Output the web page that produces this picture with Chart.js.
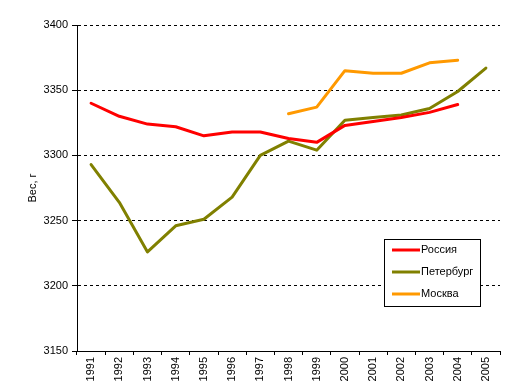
<!DOCTYPE html>
<html>
<head>
<meta charset="utf-8">
<script src="https://cdn.jsdelivr.net/npm/chart.js@4"></script>
<style>
html,body{margin:0;padding:0;background:#fff;}
#wrap{width:515px;height:389px;position:relative;}
</style>
</head>
<body>
<div id="wrap"><canvas id="c" width="515" height="389"></canvas></div>
<script>
const years = ['1991','1992','1993','1994','1995','1996','1997','1998','1999','2000','2001','2002','2003','2004','2005'];
const russia = [3340,3330,3324,3322,3315,3318,3318,3313,3310,3323,3326,3329,3333,3339,null];
const peterburg = [3293,3264,3226,3246,3251,3268,3300,3311,3304,3327,3329,3331,3336,3349,3367];
const moskva = [null,null,null,null,null,null,null,3332,3337,3365,3363,3363,3371,3373,null];
const seriesNames = ['Россия','Петербург','Москва'];
const seriesColors = ['#FF0000','#808000','#FF9900'];
const yTicks = [3150,3200,3250,3300,3350,3400];

const FONT = 'Arial, "Liberation Sans", sans-serif';

const legendPlugin = {
  id: 'boxLegend',
  afterDraw(chart) {
    const ctx = chart.ctx;
    const x0 = 384.5, y0 = 239.5, w = 96, h = 67;
    ctx.save();
    ctx.fillStyle = '#fff';
    ctx.fillRect(x0, y0, w, h);
    ctx.strokeStyle = '#000';
    ctx.lineWidth = 1;
    ctx.strokeRect(x0, y0, w, h);
    ctx.font = '11px ' + FONT;
    ctx.textBaseline = 'middle';
    chart.data.datasets.forEach((ds, i) => {
      const y = y0 + 10.5 + i * 22;
      ctx.strokeStyle = ds.borderColor;
      ctx.lineWidth = 3;
      ctx.beginPath();
      ctx.moveTo(392, y);
      ctx.lineTo(420, y);
      ctx.stroke();
      ctx.fillStyle = '#000';
      ctx.fillText(ds.label, 421, y);
    });
    ctx.restore();
  }
};

new Chart(document.getElementById('c'), {
  type: 'line',
  data: {
    labels: years,
    datasets: [
      {label: seriesNames[0], data: russia, borderColor: seriesColors[0], backgroundColor: seriesColors[0]},
      {label: seriesNames[1], data: peterburg, borderColor: seriesColors[1], backgroundColor: seriesColors[1]},
      {label: seriesNames[2], data: moskva, borderColor: seriesColors[2], backgroundColor: seriesColors[2]}
    ]
  },
  options: {
    responsive: false,
    animation: false,
    devicePixelRatio: 1,
    layout: {padding: {left: 0, right: 15, top: 25, bottom: 0}},
    elements: {
      line: {borderWidth: 3, tension: 0, borderJoinStyle: 'round', borderCapStyle: 'round'},
      point: {radius: 0, hoverRadius: 0}
    },
    plugins: {legend: {display: false}, tooltip: {enabled: false}},
    scales: {
      x: {
        type: 'category',
        offset: true,
        grid: {offset: true, drawOnChartArea: false, drawTicks: true, tickLength: 4, color: '#000', lineWidth: 1},
        border: {display: true, color: '#000', width: 1},
        ticks: {color: '#000', font: {family: FONT, size: 11}, minRotation: 90, maxRotation: 90, autoSkip: false, padding: 2},
        afterFit(s) { s.height = 38; }
      },
      y: {
        min: 3150, max: 3400,
        afterBuildTicks(s) { s.ticks = yTicks.map(v => ({value: v})); },
        grid: {color: '#000', lineWidth: 1, drawTicks: true, tickLength: 5, tickColor: '#000', tickBorderDash: []},
        border: {display: true, color: '#000', width: 1, dash: [3, 3]},
        ticks: {color: '#000', font: {family: FONT, size: 11}, padding: 4, callback: v => String(v)},
        title: {display: true, text: 'Вес, г', color: '#000', font: {family: FONT, size: 11}, padding: {top: 26, bottom: 0}},
        afterFit(s) { s.width = 77; }
      }
    }
  },
  plugins: [legendPlugin]
});
</script>
</body>
</html>
